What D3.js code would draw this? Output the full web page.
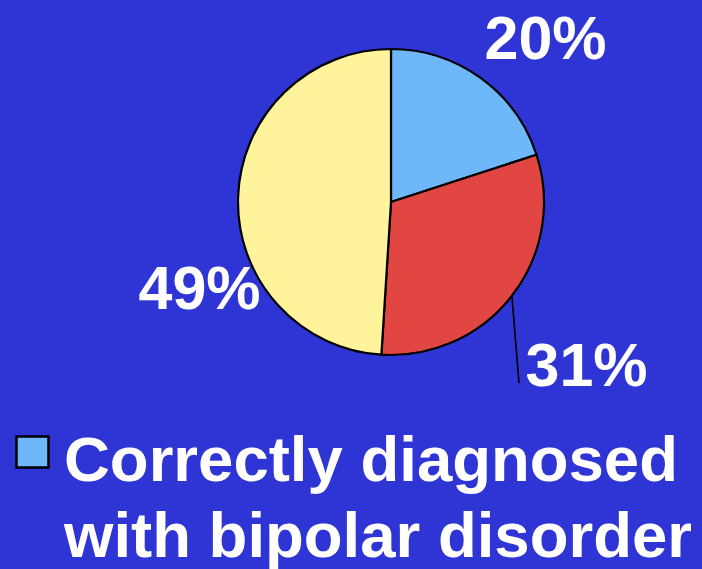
<!DOCTYPE html>
<html>
<head>
<meta charset="utf-8">
<script src="https://cdn.jsdelivr.net/npm/d3@7/dist/d3.min.js"></script>
<style>
  html, body { margin: 0; padding: 0; background: #2f35d5; }
  svg { display: block; }
  text { font-family: "Liberation Sans", Arial, Helvetica, sans-serif; font-weight: bold; fill: #ffffff; }
</style>
</head>
<body>
<svg id="chart" width="702" height="569"></svg>
<script>
// Diagnosis outcomes, in percent, drawn clockwise from 12 o'clock
const categories = ["Correctly diagnosed with bipolar disorder", "Misdiagnosed", "Other"];
const values = [20, 31, 49];
const sliceColors = ["#6eb8f9", "#e14643", "#fff39b"];
const legendLines = ["Correctly diagnosed", "with bipolar disorder"];

const width = 702, height = 569;
const cx = 391, cy = 202, radius = 153;

const svg = d3.select("#chart");
svg.append("rect").attr("width", width).attr("height", height).attr("fill", "#2f35d5");

const pie = d3.pie().sort(null).value(d => d)(values);
const arc = d3.arc().innerRadius(0).outerRadius(radius);

const g = svg.append("g").attr("transform", `translate(${cx},${cy})`);

g.selectAll("path.slice")
  .data(pie)
  .join("path")
  .attr("class", "slice")
  .attr("d", arc)
  .attr("fill", (d, i) => sliceColors[i])
  .attr("stroke", "#000")
  .attr("stroke-width", 2.2)
  .attr("stroke-linejoin", "round");

// Percentage labels, placed around the pie
const labelAnchors = [
  { x: 545.5, y: 59 },
  { x: 586.5, y: 386 },
  { x: 199.5, y: 309 }
];

svg.selectAll("text.pct")
  .data(pie)
  .join("text")
  .attr("class", "pct")
  .attr("x", (d, i) => labelAnchors[i].x)
  .attr("y", (d, i) => labelAnchors[i].y)
  .attr("text-anchor", "middle")
  .attr("font-size", 61)
  .text(d => `${d.data}%`);

// Leader line from the middle of the second slice down to its label
const mid = pie[1];
const midAngle = (mid.startAngle + mid.endAngle) / 2;
const edge = [radius * Math.sin(midAngle), -radius * Math.cos(midAngle)];
g.append("line")
  .attr("x1", edge[0]).attr("y1", edge[1])
  .attr("x2", 519 - cx).attr("y2", 383 - cy)
  .attr("stroke", "#000")
  .attr("stroke-width", 1.6);

// Legend: first category only
const legend = svg.append("g");
legend.append("rect")
  .attr("x", 16.5).attr("y", 436.5)
  .attr("width", 32).attr("height", 31)
  .attr("fill", sliceColors[0])
  .attr("stroke", "#000")
  .attr("stroke-width", 2.5);

legend.selectAll("text")
  .data(legendLines)
  .join("text")
  .attr("x", 64)
  .attr("y", (d, i) => 481 + i * 76)
  .attr("font-size", 63.5)
  .text(d => d);
</script>
</body>
</html>
